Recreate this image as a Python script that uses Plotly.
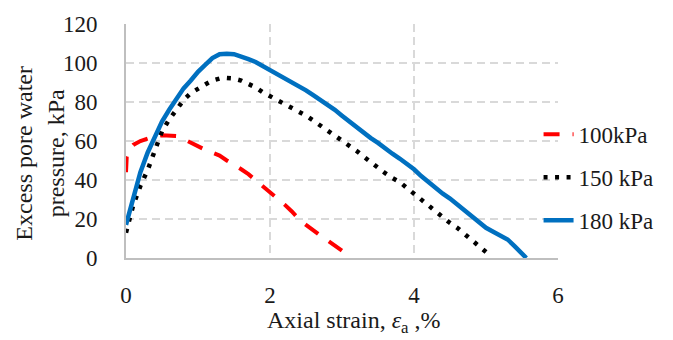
import plotly.graph_objects as go

# 100 kPa
x100 = [0, 0.01, 0.05, 0.1, 0.2, 0.3, 0.4, 0.5, 0.6, 0.7, 0.8, 0.9, 1.0, 1.1, 1.2, 1.3, 1.4, 1.5,
        1.6, 1.7, 1.8, 1.9, 2.0, 2.1, 2.2, 2.3, 2.4, 2.5, 2.6, 2.7, 2.8, 2.9, 3.0, 3.1, 3.12]
y100 = [44, 52, 56, 58, 60, 61.5, 62.5, 63, 63, 62.5, 61, 59, 57, 55.5, 54, 52.5, 50, 48,
        45.5, 43, 40, 37, 34, 31, 27.5, 24, 20, 17, 14, 11.5, 9, 6.5, 4, 1.2, 0]

# 150 kPa
x150 = [0, 0.05, 0.1, 0.2, 0.3, 0.4, 0.5, 0.6, 0.7, 0.8, 0.9, 1.0, 1.1, 1.2, 1.3, 1.4, 1.5, 1.6,
        1.7, 1.8, 1.9, 2.0, 2.1, 2.2, 2.3, 2.4, 2.5, 2.6, 2.7, 2.8, 2.9, 3.0, 3.1, 3.2, 3.3, 3.4,
        3.5, 3.6, 3.7, 3.8, 3.9, 4.0, 4.1, 4.2, 4.3, 4.4, 4.5, 4.6, 4.7, 4.8, 4.9, 5.0, 5.05]
y150 = [13, 20, 27, 37, 45, 55, 65, 71, 76, 81, 84.5, 87, 89, 91, 92, 92.3, 92, 91,
        89.5, 87.5, 85, 83, 81, 79.5, 77, 75, 73, 70.5, 68, 65.5, 63, 60, 57.5, 55, 52, 49,
        46, 43.5, 41, 39, 36, 33, 30, 27, 23.5, 20.5, 18, 15.5, 12.5, 9.5, 6.5, 3.5, 1.5]

# 180 kPa
x180 = [0, 0.05, 0.1, 0.2, 0.3, 0.4, 0.5, 0.6, 0.7, 0.8, 0.9, 1.0, 1.1, 1.2, 1.3, 1.4, 1.5, 1.6,
        1.7, 1.8, 1.9, 2.0, 2.1, 2.2, 2.3, 2.4, 2.5, 2.6, 2.7, 2.8, 2.9, 3.0, 3.1, 3.2, 3.3, 3.4,
        3.5, 3.6, 3.7, 3.8, 3.9, 4.0, 4.1, 4.2, 4.3, 4.4, 4.5, 4.6, 4.7, 4.8, 4.9, 5.0, 5.1, 5.2,
        5.3, 5.4, 5.5, 5.56]
y180 = [17, 24, 31, 44, 54, 62, 70, 76, 82, 87, 91, 95.5, 99, 102.5, 104.5, 104.8, 104.5, 103.5,
        102, 100.5, 98.5, 96, 94, 92, 90, 88, 86, 83.5, 81, 79, 76, 73, 70, 67.5, 64.5, 61.5,
        59, 56, 53.5, 51, 48.5, 45.5, 42, 39, 35.5, 33, 30.5, 27.5, 24.5, 21.5, 18.5, 15.5, 13.5, 11.5,
        9.5, 6, 2, 0]

names = ["100kPa", "150 kPa", "180 kPa"]
x_ticks = [0, 2, 4, 6]
y_ticks = [0, 20, 40, 60, 80, 100, 120]
x_title = "Axial strain, <i>ε</i><sub>a</sub> ,%"
y_title = "Excess pore water<br>pressure, kPa"

FONT = "Liberation Serif"
TXT = "#1a1a1a"

fig = go.Figure()
fig.add_trace(go.Scatter(x=x100, y=y100, mode="lines", name=names[0], legendgroup="a",
                         line=dict(color="#ff0000", width=4, dash="16px,13px")))
fig.add_trace(go.Scatter(x=x150, y=y150, mode="lines", name=names[1], legendgroup="b",
                         line=dict(color="#000000", width=4.5, dash="4px,7.5px")))
fig.add_trace(go.Scatter(x=x180, y=y180, mode="lines", name=names[2], legendgroup="c",
                         line=dict(color="#0070c0", width=4.5)))

fig.update_layout(
    width=673, height=340,
    margin=dict(l=126, r=115, t=18, b=82),
    paper_bgcolor="white", plot_bgcolor="white",
    font=dict(family=FONT, size=23, color=TXT),
    showlegend=True,
    legend=dict(x=0.955, xanchor="left", y=0.62, yanchor="top",
                bgcolor="rgba(0,0,0,0)", tracegroupgap=10,
                font=dict(family=FONT, size=23, color=TXT)),
    annotations=[
        dict(text=y_title, xref="paper", yref="paper", x=0, y=0.446, xanchor="center",
             yanchor="middle", xshift=-86, textangle=-90, showarrow=False,
             font=dict(family=FONT, size=24, color=TXT)),
        dict(text=x_title, xref="paper", yref="paper", x=0.5, y=0, xanchor="center",
             yanchor="middle", xshift=12, yshift=-64, showarrow=False,
             font=dict(family=FONT, size=24, color=TXT)),
    ],
)
fig.update_xaxes(range=[0, 6], tickvals=x_ticks, showline=True, linecolor="#bfbfbf", linewidth=2,
                 showgrid=True, gridcolor="#d9d9d9", gridwidth=1.5, griddash="8px,5px",
                 zeroline=False, ticks="", ticklabelstandoff=15)
fig.update_yaxes(range=[0, 120], tickvals=y_ticks, showline=True, linecolor="#bfbfbf", linewidth=2,
                 showgrid=True, gridcolor="#d9d9d9", gridwidth=1.5, griddash="8px,5px",
                 zeroline=False, ticks="", ticklabelstandoff=22)

fig.write_html("out.html")
